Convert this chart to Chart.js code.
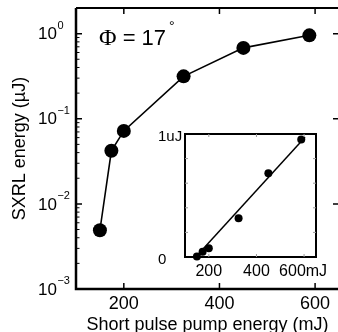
<!DOCTYPE html>
<html><head><meta charset="utf-8">
<script src="https://cdn.jsdelivr.net/npm/chart.js@4.4.1/dist/chart.umd.min.js"></script>
<style>
html,body{margin:0;padding:0;background:#fff;overflow:hidden;width:338px;height:332px}
#wrap{position:relative;width:338px;height:332px;overflow:hidden;background:#fff}
#main{position:absolute;left:0;top:0}
#inset{position:absolute;left:150px;top:120px}
</style></head><body>
<div id="wrap">
<canvas id="main" width="346" height="332" style="width:346px;height:332px"></canvas>
<canvas id="inset" width="188" height="165" style="width:188px;height:165px"></canvas>
</div>
<script>
// ---- data ----
const pumpEnergy = [150, 174, 200, 325, 450, 588];          // mJ
const sxrlEnergy = [0.0049, 0.042, 0.072, 0.315, 0.68, 0.955]; // µJ
const xTickValues = [200, 400, 600];
const xTickLabels = ['200', '400', '600'];
const yDecades = [-3, -2, -1, 0];
const yExpLabels = ['\u22123', '\u22122', '\u22121', '0'];
const xRange = [100, 650];
const yRange = [0.001, 2];
// inset (linear)
const insetXTickValues = [200, 400, 600];
const insetXTickLabels = ['200', '400', '600mJ'];
const insetYTickValues = [0, 1];
const insetYTickLabels = ['0', '1uJ'];
const insetYMinor = [0.2, 0.4, 0.6, 0.8];
const fitPump = [145, 604];
const fitEnergy = [0, 0.973];
const insetYRange = [0, 1];

const SANS = "'Liberation Sans', Arial, Helvetica, sans-serif";
const SERIF = "'Liberation Serif', 'Times New Roman', serif";

const mainDecor = {
  id: 'mainDecor',
  afterDraw(chart) {
    const ctx = chart.ctx, a = chart.chartArea;
    const xs = chart.scales.x, ys = chart.scales.y;
    ctx.save();
    ctx.strokeStyle = '#000';
    ctx.lineCap = 'butt';
    ctx.lineWidth = 2.5;
    ctx.beginPath();
    ctx.moveTo(a.left, a.top); ctx.lineTo(a.left, a.bottom); ctx.lineTo(a.right, a.bottom);
    ctx.stroke();
    ctx.lineWidth = 2;
    ctx.beginPath();
    ctx.moveTo(a.left, a.top); ctx.lineTo(a.right, a.top); ctx.lineTo(a.right, a.bottom);
    ctx.stroke();
    ctx.lineWidth = 1.5;
    xTickValues.forEach(v => {
      const x = xs.getPixelForValue(v);
      ctx.beginPath();
      ctx.moveTo(x, a.bottom); ctx.lineTo(x, a.bottom - 6);
      ctx.moveTo(x, a.top); ctx.lineTo(x, a.top + 6);
      ctx.stroke();
    });
    yDecades.forEach(d => {
      const y = ys.getPixelForValue(Math.pow(10, d));
      ctx.beginPath();
      ctx.moveTo(a.left, y); ctx.lineTo(a.left + 6, y);
      ctx.moveTo(a.right, y); ctx.lineTo(a.right - 6, y);
      ctx.stroke();
    });
    ctx.lineWidth = 1;
    yDecades.forEach(d => {
      for (let m = 2; m <= 9; m++) {
        const v = m * Math.pow(10, d);
        if (v > yRange[1]) continue;
        const y = ys.getPixelForValue(v);
        ctx.beginPath();
        ctx.moveTo(a.left, y); ctx.lineTo(a.left + 3.5, y);
        ctx.stroke();
      }
    });
    ctx.fillStyle = '#000';
    ctx.textBaseline = 'middle';
    ctx.textAlign = 'center';
    ctx.font = '18px ' + SANS;
    xTickValues.forEach((v, i) => {
      ctx.fillText(xTickLabels[i], xs.getPixelForValue(v), a.bottom + 15);
    });
    yDecades.forEach((d, i) => {
      const y = ys.getPixelForValue(Math.pow(10, d));
      ctx.textAlign = 'left';
      ctx.font = '17px ' + SANS;
      ctx.fillText('10', 38, y + 1);
      const w = ctx.measureText('10').width;
      ctx.font = '11px ' + SANS;
      ctx.fillText(yExpLabels[i], 38 + w + 0.5, y - 8);
    });
    ctx.textAlign = 'center';
    ctx.textBaseline = 'alphabetic';
    ctx.font = '18px ' + SANS;
    ctx.fillText('Short pulse pump energy (mJ)', (a.left + a.right) / 2, 330);
    ctx.save();
    ctx.translate(25, (a.top + a.bottom) / 2);
    ctx.rotate(-Math.PI / 2);
    ctx.fillText('SXRL energy (\u00b5J)', 0, 0);
    ctx.restore();
    ctx.textAlign = 'left';
    ctx.font = '24px ' + SERIF;
    ctx.fillText('\u03a6', 99, 45);
    const wPhi = ctx.measureText('\u03a6').width;
    ctx.font = '22px ' + SANS;
    ctx.fillText(' = 17', 99 + wPhi, 45);
    const w2 = ctx.measureText(' = 17').width;
    ctx.font = '14px ' + SANS;
    ctx.fillText('\u00b0', 99 + wPhi + w2 + 3, 31);
    ctx.restore();
  }
};

new Chart(document.getElementById('main'), {
  type: 'scatter',
  data: {
    datasets: [{
      data: pumpEnergy.map((x, i) => ({ x, y: sxrlEnergy[i] })),
      showLine: true,
      borderColor: '#000',
      borderWidth: 1.6,
      backgroundColor: '#000',
      pointRadius: 7,
      pointHoverRadius: 7,
      pointBorderWidth: 0,
      clip: false
    }]
  },
  options: {
    responsive: false,
    animation: false,
    events: [],
    layout: { padding: { left: 76, top: 8, right: 6, bottom: 43 } },
    plugins: { legend: { display: false }, tooltip: { enabled: false } },
    scales: {
      x: { type: 'linear', min: xRange[0], max: xRange[1], display: false },
      y: { type: 'logarithmic', min: yRange[0], max: yRange[1], display: false }
    }
  },
  plugins: [mainDecor]
});

const insetDecor = {
  id: 'insetDecor',
  afterDraw(chart) {
    const ctx = chart.ctx, a = chart.chartArea;
    const xs = chart.scales.x, ys = chart.scales.y;
    ctx.save();
    ctx.strokeStyle = '#000';
    ctx.lineWidth = 2;
    ctx.strokeRect(a.left, a.top, a.right - a.left, a.bottom - a.top);
    ctx.strokeStyle = '#999';
    ctx.lineWidth = 1;
    insetXTickValues.forEach(v => {
      const x = xs.getPixelForValue(v);
      ctx.beginPath();
      ctx.moveTo(x, a.top); ctx.lineTo(x, a.top + 3);
      ctx.moveTo(x, a.bottom); ctx.lineTo(x, a.bottom - 3);
      ctx.stroke();
    });
    insetYMinor.forEach(v => {
      const y = ys.getPixelForValue(v);
      ctx.beginPath();
      ctx.moveTo(a.left, y); ctx.lineTo(a.left + 3, y);
      ctx.moveTo(a.right, y); ctx.lineTo(a.right - 3, y);
      ctx.stroke();
    });
    ctx.fillStyle = '#000';
    ctx.font = '16px ' + SANS;
    ctx.textBaseline = 'middle';
    ctx.textAlign = 'center';
    insetXTickValues.forEach((v, i) => {
      ctx.fillText(insetXTickLabels[i], xs.getPixelForValue(v) + (i === 2 ? -1 : 0), a.bottom + 15);
    });
    ctx.textAlign = 'left';
    ctx.font = '15px ' + SANS;
    insetYTickValues.forEach((v, i) => {
      ctx.fillText(insetYTickLabels[i], a.left - 27, ys.getPixelForValue(v) + 3);
    });
    ctx.restore();
  }
};

new Chart(document.getElementById('inset'), {
  type: 'scatter',
  data: {
    datasets: [{
      data: fitPump.map((x, i) => ({ x, y: fitEnergy[i] })),
      showLine: true,
      borderColor: '#000',
      borderWidth: 1.5,
      pointRadius: 0,
      clip: false
    }, {
      data: pumpEnergy.map((x, i) => ({ x, y: sxrlEnergy[i] })),
      showLine: false,
      backgroundColor: '#000',
      borderWidth: 0,
      pointRadius: 4,
      pointHoverRadius: 4,
      clip: false
    }]
  },
  options: {
    responsive: false,
    animation: false,
    events: [],
    layout: { padding: { left: 35, top: 14, right: 22, bottom: 28 } },
    plugins: { legend: { display: false }, tooltip: { enabled: false } },
    scales: {
      x: { type: 'linear', min: xRange[0], max: xRange[1], display: false },
      y: { type: 'linear', min: insetYRange[0], max: insetYRange[1], display: false }
    }
  },
  plugins: [insetDecor]
});
</script>
</body></html>
